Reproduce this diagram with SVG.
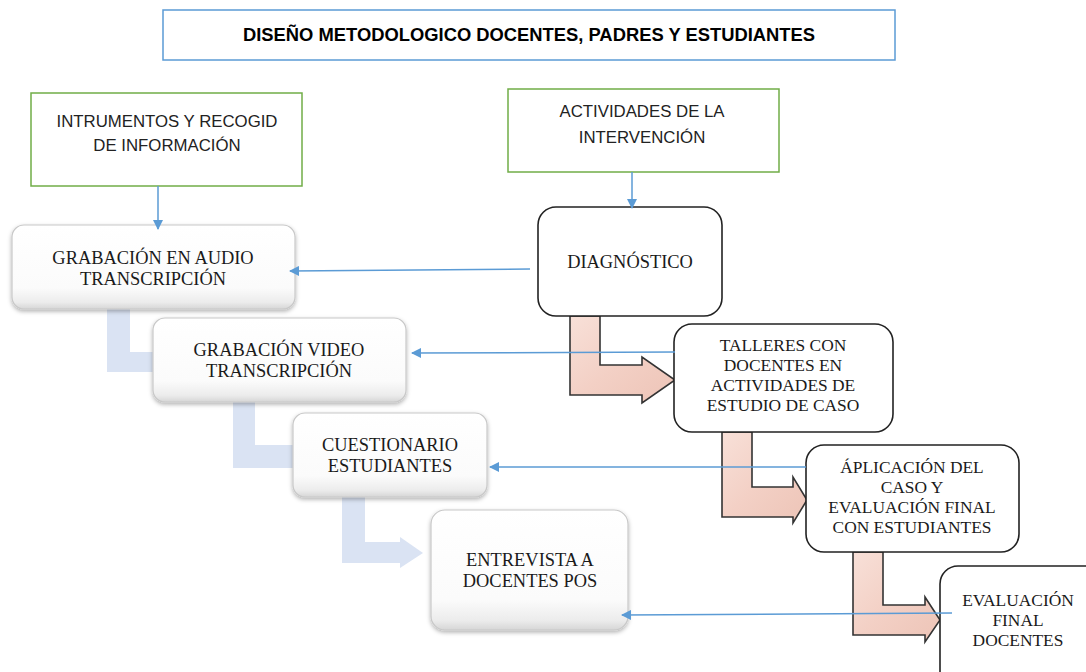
<svg xmlns="http://www.w3.org/2000/svg" width="1086" height="672" viewBox="0 0 1086 672">
<style>
.hdr{fill:#fff;stroke:#70ad47;stroke-width:1.5}
.ttl{fill:#fff;stroke:#5b9bd5;stroke-width:1.5}
.sans{font-family:"Liberation Sans",Arial,sans-serif;font-size:16.8px;fill:#222;text-anchor:middle}
.bold{font-weight:bold;font-size:18px;fill:#000}
.serif{font-family:"Liberation Serif","Times New Roman",serif;font-size:18.4px;fill:#1a1a1a;text-anchor:middle}
.rs{font-size:17.4px}
.gloss{fill:url(#glossG);stroke:#c8c8c8;stroke-width:1.2;filter:url(#shadow)}
.act{fill:#fff;stroke:#222;stroke-width:1.6}
.blue{fill:#dae3f3}
.pink{fill:url(#pinkG);stroke:#333;stroke-width:1.6;stroke-linejoin:miter}
.conn{fill:none;stroke:#5b9bd5;stroke-width:1.5}
</style>
<defs>
<linearGradient id="glossG" x1="0" y1="0" x2="0" y2="1">
<stop offset="0" stop-color="#ffffff"/>
<stop offset="0.75" stop-color="#fbfbfb"/>
<stop offset="0.92" stop-color="#ececec"/>
<stop offset="1" stop-color="#d6d6d6"/>
</linearGradient>
<linearGradient id="pinkG" x1="0" y1="0" x2="1" y2="1">
<stop offset="0" stop-color="#f8e0d8"/>
<stop offset="0.5" stop-color="#f3d0c5"/>
<stop offset="1" stop-color="#edc4b7"/>
</linearGradient>
<filter id="shadow" x="-10%" y="-10%" width="120%" height="130%">
<feDropShadow dx="0" dy="2" stdDeviation="2" flood-color="#000" flood-opacity="0.3"/>
</filter>
<marker id="ah" markerWidth="10" markerHeight="10" refX="9" refY="5" orient="auto" markerUnits="userSpaceOnUse">
<path d="M0,0 L10,5 L0,10 Z" fill="#5b9bd5"/>
</marker>
</defs>
<rect width="1086" height="672" fill="#fff"/>

<g id="title">
<rect class="ttl" x="163" y="10" width="732" height="50"/>
<text class="sans bold" x="529" y="41" textLength="572" lengthAdjust="spacingAndGlyphs">DISEÑO METODOLOGICO DOCENTES, PADRES Y ESTUDIANTES</text>
</g>

<g id="instrumentos">
<rect class="hdr" x="31" y="93" width="271" height="93"/>
<text class="sans" x="167" y="127">INTRUMENTOS Y RECOGID</text>
<text class="sans" x="167" y="151">DE INFORMACIÓN</text>
</g>

<g id="actividades">
<rect class="hdr" x="508" y="89" width="271" height="83"/>
<text class="sans" x="642" y="117">ACTIVIDADES DE LA</text>
<text class="sans" x="642" y="143">INTERVENCIÓN</text>
</g>

<g id="flow-arrows">
<path class="blue" d="M107,309 H130 V352 H160 V372 H107 Z"/>
<path class="blue" d="M233,402 H255 V445 H300 V468 H233 Z"/>
<path class="blue" d="M342,497 H365 V542 H400 V537 L423,553 L400,568 V563 H342 Z"/>
<path class="pink" d="M570,316 H600 V365 H642 V357 L675,380 L642,403 V395 H570 Z"/>
<path class="pink" d="M722,432 H752 V487 H793 V477 L807,500 L793,523 V517 H722 Z"/>
<path class="pink" d="M853,552 H883 V605 H925 V597 L940,620 L925,642 V635 H853 Z"/>
</g>

<g id="audio">
<rect class="gloss" x="12" y="225" width="283" height="84" rx="12"/>
<text class="serif" x="153" y="264">GRABACIÓN EN AUDIO</text>
<text class="serif" x="153" y="285">TRANSCRIPCIÓN</text>
</g>

<g id="video">
<rect class="gloss" x="153" y="318" width="253" height="84" rx="12"/>
<text class="serif" x="279" y="356">GRABACIÓN VIDEO</text>
<text class="serif" x="279" y="377">TRANSCRIPCIÓN</text>
</g>

<g id="cuestionario">
<rect class="gloss" x="293" y="413" width="194" height="84" rx="12"/>
<text class="serif" x="390" y="451">CUESTIONARIO</text>
<text class="serif" x="390" y="472">ESTUDIANTES</text>
</g>

<g id="entrevista">
<rect class="gloss" x="431" y="510" width="197" height="120" rx="14"/>
<text class="serif" x="530" y="566">ENTREVISTA A</text>
<text class="serif" x="530" y="587">DOCENTES POS</text>
</g>

<g id="diagnostico">
<rect class="act" x="538" y="207" width="184" height="109" rx="18"/>
<text class="serif" x="630" y="268">DIAGNÓSTICO</text>
</g>

<g id="talleres">
<rect class="act" x="674" y="324" width="219" height="108" rx="18"/>
<text class="serif rs" x="783" y="351">TALLERES CON</text>
<text class="serif rs" x="783" y="371">DOCENTES EN</text>
<text class="serif rs" x="783" y="391">ACTIVIDADES DE</text>
<text class="serif rs" x="783" y="411">ESTUDIO DE CASO</text>
</g>

<g id="aplicacion">
<rect class="act" x="806" y="445" width="213" height="107" rx="18"/>
<text class="serif rs" x="912" y="473">ÁPLICACIÓN DEL</text>
<text class="serif rs" x="912" y="493">CASO Y</text>
<text class="serif rs" x="912" y="513">EVALUACIÓN FINAL</text>
<text class="serif rs" x="912" y="533">CON ESTUDIANTES</text>
</g>

<g id="evaluacion">
<rect class="act" x="940" y="566" width="170" height="125" rx="18"/>
<text class="serif rs" x="1018" y="606">EVALUACIÓN</text>
<text class="serif rs" x="1018" y="626">FINAL</text>
<text class="serif rs" x="1018" y="646">DOCENTES</text>
</g>

<g id="connectors">
<line class="conn" x1="158" y1="186" x2="158" y2="229" marker-end="url(#ah)"/>
<line class="conn" x1="632" y1="172" x2="632" y2="208" marker-end="url(#ah)"/>
<line class="conn" x1="530" y1="269" x2="290" y2="271" marker-end="url(#ah)"/>
<line class="conn" x1="675" y1="352" x2="412" y2="353" marker-end="url(#ah)"/>
<line class="conn" x1="806" y1="467" x2="490" y2="467" marker-end="url(#ah)"/>
<line class="conn" x1="952" y1="613" x2="622" y2="615" marker-end="url(#ah)"/>
</g>
</svg>
